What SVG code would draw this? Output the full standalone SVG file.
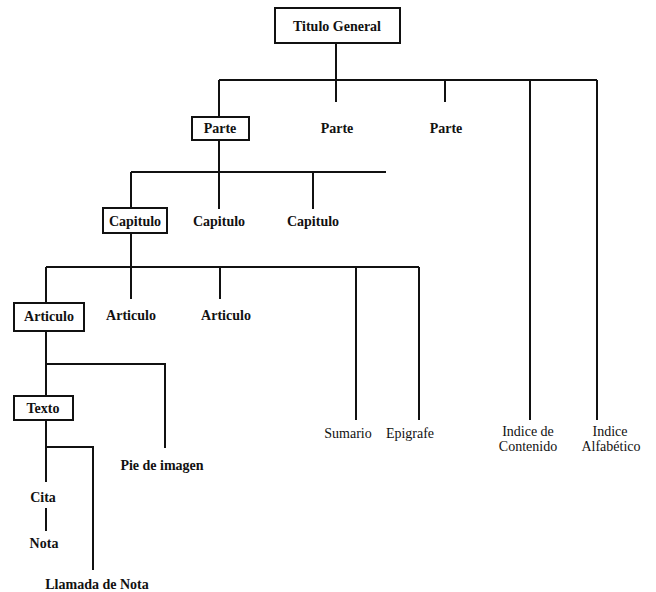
<svg xmlns="http://www.w3.org/2000/svg" width="656" height="592" viewBox="0 0 656 592">
<style>
.ln{stroke:#111;stroke-width:2;fill:none}
.bx{stroke:#111;stroke-width:2;fill:#fff}
text{font-family:"Liberation Serif","Times New Roman",serif;font-size:14px;fill:#111;text-anchor:middle}
.b{font-weight:bold}
</style>
<rect width="656" height="592" fill="#fff"/>
<g id="connectors" class="ln">
<path d="M336 43V80M219 80H597M336 80V102M445 80V102M530 80V420M597 80V420"/>
<path d="M219 117V80M219 140V172M131 172H386M131 172V208M219 172V209M313 172V209"/>
<path d="M131 233V267M46 267H419M46 267V303M131 267V299M220 267V299M356 267V420M419 267V420"/>
<path d="M46 331V396M46 364H165V448"/>
<path d="M46 420V482M46 447H93V570M46 508V531"/>
</g>
<g id="titulo"><rect class="bx" x="275" y="8" width="125" height="35"/><text class="b" x="337" y="31">Titulo General</text></g>
<g id="parte1"><rect class="bx" x="192" y="117" width="57" height="23"/><text class="b" x="220" y="133">Parte</text></g>
<g id="parte2"><text class="b" x="337" y="133">Parte</text></g>
<g id="parte3"><text class="b" x="446" y="133">Parte</text></g>
<g id="capitulo1"><rect class="bx" x="103" y="208" width="64" height="25"/><text class="b" x="135" y="226">Capitulo</text></g>
<g id="capitulo2"><text class="b" x="219" y="226">Capitulo</text></g>
<g id="capitulo3"><text class="b" x="313" y="226">Capitulo</text></g>
<g id="articulo1"><rect class="bx" x="14" y="303" width="70" height="28"/><text class="b" x="49" y="321">Articulo</text></g>
<g id="articulo2"><text class="b" x="131" y="320">Articulo</text></g>
<g id="articulo3"><text class="b" x="226" y="320">Articulo</text></g>
<g id="texto"><rect class="bx" x="14" y="396" width="59" height="24"/><text class="b" x="43" y="413">Texto</text></g>
<g id="pie"><text class="b" x="162" y="470">Pie de imagen</text></g>
<g id="cita"><text class="b" x="43" y="502">Cita</text></g>
<g id="nota"><text class="b" x="44" y="548">Nota</text></g>
<g id="llamada"><text class="b" x="97" y="589">Llamada de Nota</text></g>
<g id="sumario"><text x="348" y="438">Sumario</text></g>
<g id="epigrafe"><text x="410" y="438">Epigrafe</text></g>
<g id="indice-contenido"><text x="528" y="436">Indice de</text><text x="528" y="451">Contenido</text></g>
<g id="indice-alfabetico"><text x="610" y="436">Indice</text><text x="611" y="451">Alfabético</text></g>
</svg>
